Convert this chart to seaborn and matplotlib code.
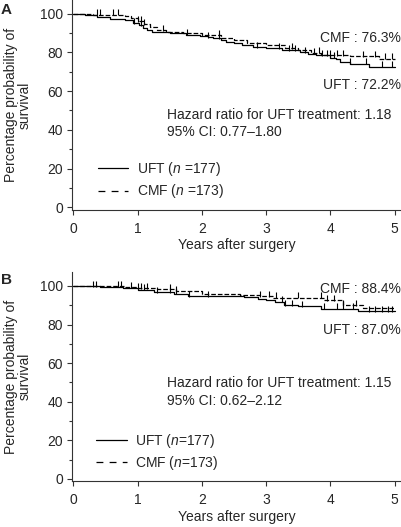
import numpy as np
import pandas as pd
import matplotlib
matplotlib.use("Agg")
import matplotlib.pyplot as plt
import seaborn as sns
from matplotlib.ticker import MultipleLocator
from matplotlib.lines import Line2D

sns.set_theme(style="ticks")
plt.rcParams['font.family'] = ['Liberation Sans', 'DejaVu Sans']
plt.rcParams['mathtext.fontset'] = 'custom'
plt.rcParams['mathtext.it'] = 'Liberation Sans:italic'
plt.rcParams['mathtext.rm'] = 'Liberation Sans'

# ---------------- data ----------------
# Panel A
a_uft_t = [0, 0.19, 0.37, 0.57, 0.8, 0.93, 1.02, 1.09, 1.15, 1.22, 1.5, 1.75, 1.97, 2.1, 2.17,
           2.3, 2.38, 2.5, 2.62, 2.8, 3.0, 3.25, 3.52, 3.65, 3.78, 3.99, 4.08, 4.15, 4.3, 4.6, 5.0]
a_uft_s = [100, 99.2, 98.3, 97.2, 96.5, 95.2, 94.0, 92.5, 91.5, 90.3, 89.8, 89.2, 88.6, 88.0, 87.4,
           86.4, 85.4, 84.6, 83.6, 82.8, 82.0, 81.0, 80.0, 79.3, 78.5, 77.3, 76.5, 75.2, 74.2, 72.6, 72.6]
a_cmf_t = [0, 0.3, 0.8, 0.9, 1.0, 1.1, 1.2, 1.3, 1.45, 1.7, 2.0, 2.3, 2.5, 2.7, 3.0, 3.3, 3.5,
           3.7, 3.85, 4.3, 4.75, 5.0]
a_cmf_s = [100, 99.5, 99.0, 97.5, 96.0, 94.5, 93.0, 91.5, 90.5, 89.8, 88.8, 87.5, 86.2, 85.0,
           83.6, 82.2, 81.2, 79.8, 78.6, 78.0, 76.8, 76.8]
a_uft_cens = [0.95, 1.05, 1.77, 2.1, 2.26, 2.85, 3.2, 3.35, 3.45, 3.6, 3.75, 3.95, 4.05, 4.3,
              4.55, 4.8, 4.95]
a_cmf_cens = [0.37, 0.42, 0.62, 0.7, 1.0, 1.05, 1.1, 1.4, 2.26, 3.4, 3.82, 3.87, 4.0, 4.1,
              4.2, 4.5, 4.7, 4.85, 4.95]

# Panel B
b_uft_t = [0, 0.42, 0.78, 1.0, 1.25, 1.56, 1.78, 2.66, 2.87, 3.0, 3.13, 3.28, 3.5, 3.86, 4.43, 5.0]
b_uft_s = [100, 99.6, 99.0, 98.1, 96.9, 96.0, 94.8, 94.3, 93.1, 92.5, 91.8, 90.0, 89.5, 88.3, 87.0, 87.0]
b_cmf_t = [0, 0.8, 1.0, 1.3, 1.6, 2.0, 2.6, 2.9, 3.1, 3.9, 4.2, 4.5, 5.0]
b_cmf_s = [100, 99.4, 98.9, 98.3, 97.2, 96.0, 95.4, 94.8, 94.0, 92.5, 90.0, 88.4, 88.4]
b_uft_cens = [1.1, 1.3, 1.5, 1.6, 1.8, 2.1, 3.25, 3.3, 3.4, 3.55, 3.9, 4.1, 4.2, 4.35, 4.6,
              4.7, 4.8, 4.9, 4.95]
b_cmf_cens = [0.3, 0.35, 0.7, 0.75, 0.9, 1.0, 1.05, 1.15, 1.5, 1.6, 2.9, 3.05, 3.15, 3.5,
              3.85, 3.95, 4.05, 4.2, 4.4]

panels = [
    dict(tag="A", uft=(a_uft_t, a_uft_s, a_uft_cens), cmf=(a_cmf_t, a_cmf_s, a_cmf_cens),
         cmf_lab="CMF : 76.3%", uft_lab="UFT : 72.2%",
         hr="Hazard ratio for UFT treatment: 1.18", ci="95% CI: 0.77\u20131.80",
         leg=["UFT ($n$ =177)", "CMF ($n$ =173)"],
         lab_y=(87.5, 63), hr_y=(47.5, 38.8), leg_x=0.057, tag_y=0.995),
    dict(tag="B", uft=(b_uft_t, b_uft_s, b_uft_cens), cmf=(b_cmf_t, b_cmf_s, b_cmf_cens),
         cmf_lab="CMF : 88.4%", uft_lab="UFT : 87.0%",
         hr="Hazard ratio for UFT treatment: 1.15", ci="95% CI: 0.62\u20132.12",
         leg=["UFT ($n$=177)", "CMF ($n$=173)"],
         lab_y=(98.5, 77), hr_y=(49.5, 40.2), leg_x=0.052, tag_y=0.482),
]

def level(t, s, c):
    t = np.asarray(t); s = np.asarray(s)
    idx = np.searchsorted(t, c, side='right') - 1
    return s[idx]

fig = plt.figure(figsize=(4.02, 5.27), dpi=100)
axes_pos = [[0.179, 0.602, 0.819, 0.398], [0.179, 0.087, 0.819, 0.396]]
fs = 10
dash = (4.5, 3)

for pos, p in zip(axes_pos, panels):
    ax = fig.add_axes(pos)
    for key, style in (("uft", "-"), ("cmf", "--")):
        t, s, c = p[key]
        df = pd.DataFrame({"t": t, "s": s})
        kw = dict(dashes=dash) if style == "--" else {}
        sns.lineplot(data=df, x="t", y="s", ax=ax, color="black", lw=0.9,
                     drawstyle="steps-post", estimator=None, sort=False, linestyle=style, **kw)
        cdf = pd.DataFrame({"t": c, "s": level(t, s, c) + 1.2})
        sns.scatterplot(data=cdf, x="t", y="s", ax=ax, marker="|", color="black",
                        s=22, linewidth=0.8)
    ax.set_xlim(-0.02, 5.1)
    ax.set_ylim(-1.2, 107)
    ax.set_xticks([0, 1, 2, 3, 4, 5])
    ax.set_yticks([0, 20, 40, 60, 80, 100])
    ax.yaxis.set_minor_locator(MultipleLocator(10))
    ax.tick_params(axis='both', which='major', length=3.5, width=0.8, labelsize=fs, pad=3,
                   color="#333333")
    ax.tick_params(axis='x', which='major', pad=5)
    ax.tick_params(axis='y', which='minor', length=2, width=0.8, color="#333333")
    for sp in ("top", "right"):
        ax.spines[sp].set_visible(False)
    for sp in ("left", "bottom"):
        ax.spines[sp].set_linewidth(0.8)
        ax.spines[sp].set_color("#333333")
    ax.set_xlabel("Years after surgery", fontsize=fs, labelpad=2)
    ax.set_ylabel("Percentage probability of\nsurvival", fontsize=fs, labelpad=6, linespacing=0.95)

    ax.text(5.1, p["lab_y"][0], p["cmf_lab"], ha="right", va="center", fontsize=fs)
    ax.text(5.1, p["lab_y"][1], p["uft_lab"], ha="right", va="center", fontsize=fs)
    ax.text(1.46, p["hr_y"][0], p["hr"], ha="left", va="center", fontsize=fs)
    ax.text(1.46, p["hr_y"][1], p["ci"], ha="left", va="center", fontsize=fs)
    handles = [Line2D([], [], color="black", lw=0.9),
               Line2D([], [], color="black", lw=0.9, linestyle=(0, (5.5, 5)))]
    ax.legend(handles, p["leg"], loc="center left", bbox_to_anchor=(p["leg_x"], 0.14),
              frameon=False, fontsize=fs, handlelength=2.2, handletextpad=0.6,
              labelspacing=0.3, borderpad=0)
    fig.text(0.002, p["tag_y"], p["tag"], fontsize=11, fontweight="bold",
             ha="left", va="top")

fig.savefig("out.png", dpi=100)
